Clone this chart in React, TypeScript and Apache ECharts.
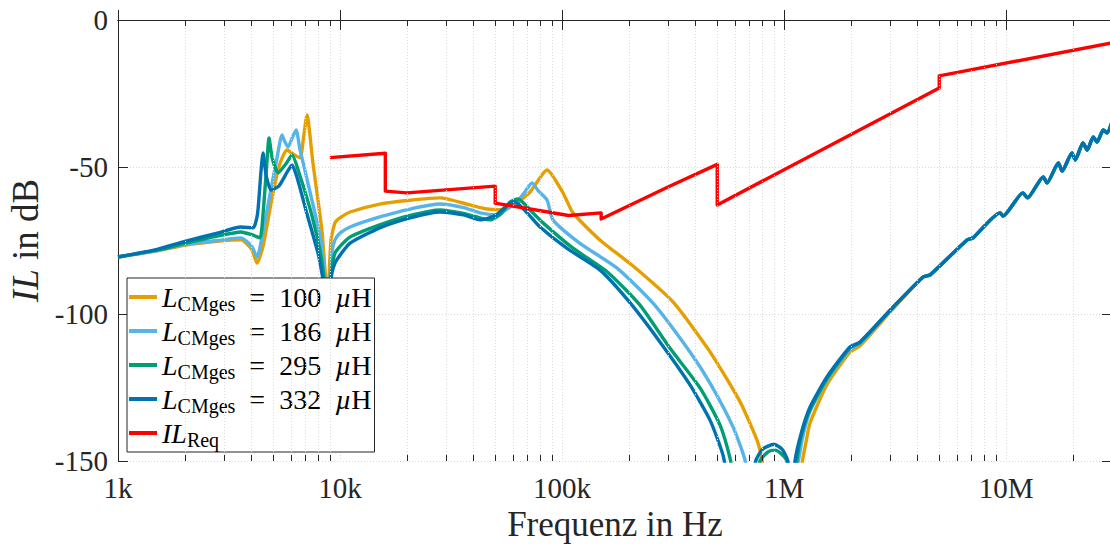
import React, { useEffect, useRef } from "react";
import * as echarts from "echarts";

const FONT = "Liberation Serif";
const AX = "#262626";

const freqTicks = [1e3, 1e4, 1e5, 1e6, 1e7];
const freqTickLabels = ["1k", "10k", "100k", "1M", "10M"];
const freqMin = 1e3;
const freqMax = 3e7;
const dbMin = -150;
const dbMax = 0;
const dbStep = 50;

const seriesNames = [
  "L_CMges = 100 µH",
  "L_CMges = 186 µH",
  "L_CMges = 295 µH",
  "L_CMges = 332 µH",
  "IL_Req",
];
const legendLabels = [
  "{i|L}{s|CMges}{n|  =  100  }{i|µ}{n|H}",
  "{i|L}{s|CMges}{n|  =  186  }{i|µ}{n|H}",
  "{i|L}{s|CMges}{n|  =  295  }{i|µ}{n|H}",
  "{i|L}{s|CMges}{n|  =  332  }{i|µ}{n|H}",
  "{i|IL}{s|Req}",
];
const seriesColors = ["#E69F00", "#56B4E9", "#009E73", "#0072B2", "#FF0000"];

// shared high-frequency part (all inductance variants coincide)
const sharedTail: [number, number][] = [
  [4230000, -87.4], [4550000, -86.7], [6670000, -74.8], [7100000, -74.1],
  [9400000, -65.6], [9690000, -66.7], [11900000, -58.8], [12500000, -60.5],
  [14700000, -53.4], [15300000, -55.4], [17200000, -48.6], [17900000, -51.4],
  [19800000, -45.2], [20500000, -47.6], [22200000, -41.8], [23200000, -44.2],
  [24700000, -39.8], [25700000, -41.5], [27400000, -37.4], [28500000, -38.4],
  [30000000, -34.7],
];

const curve100: [number, number][] = [
  [1000, -80.6], [1500, -78.5], [2000, -76.6], [2800, -75.3], [3580, -74.8],
  [4000, -78], [4230, -82.7], [4500, -77], [4900, -62], [5300, -50], [5770, -44.2],
  [6200, -45.8], [6610, -46.9], [6850, -40], [7100, -32.3], [7550, -48.6],
  [8300, -72], [8800, -95], [9100, -75], [9490, -69.0], [10000, -67.3],
  [11100, -65.3], [15100, -62.6], [20700, -61.3], [28200, -60.5], [38500, -62.9],
  [45900, -64.3], [53000, -64.5], [62700, -62.2], [71800, -58.5], [85600, -51.0],
  [101000, -58.8], [112000, -65.6], [148000, -74.8], [209000, -83.7],
  [316000, -95.9], [464000, -112.9], [634000, -129.9], [755000, -142.9],
  [796000, -149.7], [850000, -165], [1000000, -185], [1150000, -165],
  [1210000, -150], [1260000, -143], [1310000, -137], [1560000, -124],
  [1980000, -113], [2200000, -110.8], [3100000, -98.2],
];

const curve186: [number, number][] = [
  [1000, -80.6], [1500, -78.4], [2000, -76.3], [2800, -75], [3580, -74.1],
  [4000, -77], [4230, -80.6], [4500, -72], [4840, -59.2], [5200, -47],
  [5480, -39.1], [5650, -41.5], [5830, -43.2], [6100, -40], [6340, -37.4],
  [6600, -44], [7300, -58], [8200, -75], [8800, -95], [9200, -79], [9490, -74.8],
  [10000, -72.5], [11100, -70.4], [15100, -67.0], [20700, -64.3], [28200, -62.6],
  [36000, -63.8], [42700, -65.6], [51000, -66.3], [56000, -64.5], [62700, -61.9],
  [68000, -58.5], [73300, -55.4], [78000, -58], [85600, -61.2], [91100, -68.0],
  [120000, -75.9], [177000, -84.4], [257000, -96.3], [377000, -112.9],
  [464000, -123.5], [589000, -138.4], [667000, -149.7], [720000, -165],
  [900000, -185], [1050000, -170], [1160000, -150], [1220000, -141],
  [1310000, -133], [1560000, -122.5], [1980000, -112], [2200000, -110],
  [3100000, -97.8],
];

const curve295: [number, number][] = [
  [1000, -80.6], [1500, -78.3], [2000, -76], [2800, -73.5], [3580, -72.1],
  [4060, -73.2], [4360, -74.1], [4500, -66], [4650, -52], [4790, -40.1],
  [4950, -47], [5260, -52.0], [5700, -49], [6080, -45.9], [6600, -53],
  [7500, -67], [8200, -80], [8800, -95], [9200, -84], [9490, -79.3],
  [10000, -77], [11100, -73.8], [15100, -69.7], [20700, -66.5], [28200, -64.6],
  [36000, -65.8], [42700, -67.3], [47400, -68.0], [53000, -66], [58300, -61.9],
  [63400, -60.9], [71800, -64.6], [82100, -69.0], [112000, -77.6],
  [160000, -85.7], [224000, -96.9], [306000, -111.6], [419000, -125.2],
  [515000, -137.8], [571000, -149.0], [610000, -160], [700000, -170],
  [750000, -160], [779000, -150], [850000, -146.8], [910000, -146.3],
  [970000, -147.5], [1030000, -150], [1080000, -165], [1140000, -150],
  [1200000, -141], [1310000, -132.5], [1560000, -122], [1980000, -111.5],
  [2200000, -109.7], [3100000, -97.7],
];

const curve332: [number, number][] = [
  [1000, -80.6], [1500, -78.0], [2000, -75.3], [2800, -72.5], [3580, -70.4],
  [4060, -70.7], [4250, -66], [4400, -52], [4500, -45.2], [4650, -53],
  [4890, -57.8], [5300, -56.5], [5800, -51.5], [6080, -49.3], [6400, -53.5],
  [7100, -66], [8000, -80], [8800, -95], [9200, -86], [9490, -82.7],
  [10000, -80], [11100, -75.9], [15100, -70.7], [20700, -67.3], [28200, -65.3],
  [36000, -66.3], [42700, -68.0], [50000, -66.5], [58300, -62.2], [61400, -61.9],
  [69600, -65.6], [79600, -70.4], [105000, -77.6], [148000, -85.0],
  [201000, -95.9], [276000, -109.5], [377000, -124.1], [464000, -136.1],
  [531000, -148], [570000, -160], [650000, -175], [700000, -165],
  [745000, -150], [800000, -146], [900000, -144.3], [980000, -146],
  [1040000, -150], [1080000, -165], [1120000, -150], [1200000, -140],
  [1310000, -131.6], [1560000, -121.4], [1980000, -111.2], [2200000, -109.5],
  [3100000, -97.6],
];

const ilReq: [number, number][] = [
  [9000, -46.8], [16000, -45.3], [16000, -58.2], [20000, -58.8],
  [50000, -56.5], [50000, -62.3], [107000, -66.5], [150000, -65.6],
  [150000, -67.7], [300000, -56.8], [500000, -49.1], [500000, -62.9],
  [5000000, -23.1], [5000000, -19.0], [30000000, -7.8],
];

const seriesData = [
  [...curve100, ...sharedTail],
  [...curve186, ...sharedTail],
  [...curve295, ...sharedTail],
  [...curve332, ...sharedTail],
  ilReq,
];

function fmtFreq(v: number): string {
  const idx = freqTicks.findIndex((t) => Math.abs(Math.log10(v) - Math.log10(t)) < 1e-6);
  return idx >= 0 ? freqTickLabels[idx] : "";
}

export default function App() {
  const ref = useRef<HTMLDivElement>(null);
  useEffect(() => {
    if (!ref.current) return;
    const chart = echarts.init(ref.current, undefined, { renderer: "svg" });

    // minor log grid lines / ticks at 2..9 x decade
    const minor: number[] = [];
    freqTicks.forEach((d) => {
      for (let m = 2; m <= 9; m++) if (m * d < freqMax) minor.push(m * d);
    });
    const tickLen = 6 / 2.94;
    const gridColor = "#dadada";
    const gridLines = minor.map((v) => [
      { coord: [v, dbMin], lineStyle: { color: gridColor, type: [1, 2], width: 1 } },
      { coord: [v, dbMax] },
    ]);
    const ticksBottom = minor.map((v) => [
      { coord: [v, dbMin], lineStyle: { color: AX, type: "solid", width: 1 } },
      { coord: [v, dbMin + tickLen] },
    ]);
    const ticksTop = minor.map((v) => [
      { coord: [v, dbMax], lineStyle: { color: AX, type: "solid", width: 1 } },
      { coord: [v, dbMax - tickLen] },
    ]);

    const lineSeries = seriesNames.map((name, i) => ({
      name,
      type: "line",
      data: seriesData[i],
      showSymbol: false,
      symbol: "none",
      clip: true,
      z: 3,
      silent: true,
      smooth: i < 4 ? 0.2 : false,
      color: seriesColors[i],
      lineStyle: { color: seriesColors[i], width: 3.4, join: "round" },
      emphasis: { disabled: true },
    }));

    const axisCommonX = {
      type: "log",
      logBase: 10,
      min: freqMin,
      max: freqMax,
    };
    const axisCommonY = {
      type: "value",
      min: dbMin,
      max: dbMax,
      interval: dbStep,
    };

    chart.setOption({
      animation: false,
      backgroundColor: "#ffffff",
      textStyle: { fontFamily: FONT },
      grid: { left: 118, top: 20, width: 994, height: 441, containLabel: false, outerBoundsMode: "none" },
      legend: {
        data: seriesNames,
        orient: "vertical",
        left: 127,
        top: 278,
        backgroundColor: "#ffffff",
        borderColor: AX,
        borderWidth: 1,
        borderRadius: 0,
        padding: [2, 3, 2, 2],
        itemGap: 0,
        itemWidth: 28,
        itemHeight: 4,
        icon: "rect",
        selectedMode: false,
        formatter: (name: string) => legendLabels[seriesNames.indexOf(name)],
        textStyle: {
          fontFamily: FONT,
          fontSize: 28,
          color: "#000",
          lineHeight: 34,
          rich: {
            i: { fontFamily: FONT, fontStyle: "italic", fontSize: 28, lineHeight: 34, color: "#000" },
            n: { fontFamily: FONT, fontSize: 28, lineHeight: 34, color: "#000" },
            s: { fontFamily: FONT, fontSize: 20, lineHeight: 22, verticalAlign: "bottom", color: "#000" },
          },
        },
      },
      xAxis: [
        {
          ...axisCommonX,
          position: "bottom",
          axisLine: { show: true, lineStyle: { color: AX, width: 1 } },
          axisTick: { show: true, inside: true, length: 10, lineStyle: { color: AX } },
          axisLabel: {
            formatter: fmtFreq,
            fontSize: 29,
            fontFamily: FONT,
            color: AX,
            margin: 12,
            showMinLabel: true,
            showMaxLabel: true,
          },
          splitLine: { show: true, lineStyle: { color: gridColor, type: [1, 2], width: 1 } },
          name: "Frequenz in Hz",
          nameLocation: "middle",
          nameGap: 46,
          nameTextStyle: { fontSize: 35, fontFamily: FONT, color: AX },
        },
        {
          ...axisCommonX,
          position: "top",
          axisLine: { show: true, lineStyle: { color: AX, width: 1 } },
          axisTick: { show: true, inside: true, length: 10, lineStyle: { color: AX } },
          axisLabel: { show: false },
          splitLine: { show: false },
        },
      ],
      yAxis: [
        {
          ...axisCommonY,
          position: "left",
          axisLine: { show: true, lineStyle: { color: AX, width: 1 } },
          axisTick: { show: true, inside: true, length: 10, lineStyle: { color: AX } },
          axisLabel: {
            fontSize: 29,
            fontFamily: FONT,
            color: AX,
            margin: 10,
            formatter: (v: number) => String(v),
          },
          splitLine: { show: true, lineStyle: { color: gridColor, type: [1, 2], width: 1 } },
          name: "{i|IL} in dB",
          nameLocation: "middle",
          nameGap: 68,
          nameTextStyle: {
            fontSize: 37,
            fontFamily: FONT,
            color: AX,
            rich: {
              i: { fontSize: 37, fontFamily: FONT, fontStyle: "italic", color: AX },
            },
          },
        },
        {
          ...axisCommonY,
          position: "right",
          axisLine: { show: true, lineStyle: { color: AX, width: 1 } },
          axisTick: { show: true, inside: true, length: 10, lineStyle: { color: AX } },
          axisLabel: { show: false },
          splitLine: { show: false },
        },
      ],
      series: [
        {
          name: "grid",
          type: "line",
          data: [],
          z: 1,
          silent: true,
          markLine: {
            silent: true,
            symbol: ["none", "none"],
            label: { show: false },
            emphasis: { disabled: true },
            animation: false,
            data: [...gridLines, ...ticksBottom, ...ticksTop],
          },
        },
        ...lineSeries,
      ],
    });
    return () => chart.dispose();
  }, []);

  return (
    <div
      ref={ref}
      style={{ position: "fixed", left: 0, top: 0, width: 1110, height: 545, background: "#fff" }}
    />
  );
}
